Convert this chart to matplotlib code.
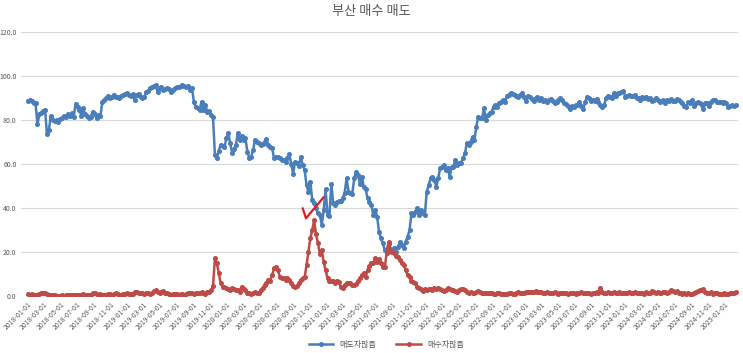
import matplotlib
matplotlib.use("Agg")
import matplotlib.pyplot as plt
import matplotlib.dates as mdates
import pandas as pd

plt.rcParams['font.family'] = ['Noto Sans CJK KR', 'DejaVu Sans']

title = "부산 매수 매도"
series_names = ["매도자많음", "매수자많음"]
start_date = "2018-01-01"

# weekly values, starting 2018-01-01
sell_heavy = [
    88.8, 89.2, 88.5, 87.8, 87.6, 78.0, 82.5, 83.0, 84.0, 84.6, 73.5, 75.5, 81.8,
    80.0, 79.5, 79.8, 79.0, 80.3, 80.8, 82.0, 81.2, 82.5, 82.0, 83.0, 81.5, 87.3,
    85.8, 84.5, 82.0, 85.5, 82.5, 82.0, 81.0, 81.5, 83.8, 82.5, 80.8, 82.2, 81.8,
    88.0, 89.0, 89.8, 91.0, 90.0, 90.5, 91.5, 90.6, 90.3, 90.2, 91.0, 91.5, 92.0,
    92.3, 91.5, 90.8, 91.8, 89.2, 91.5, 92.0, 91.0, 90.0, 90.5, 92.5, 93.0, 94.5,
    95.0, 95.5, 95.9, 92.5, 94.5, 95.2, 93.8, 94.2, 94.4, 94.0, 92.5, 93.5, 94.4,
    94.8, 95.2, 95.5, 95.9, 95.3, 95.2, 95.5, 93.6, 94.4, 88.0, 86.0, 85.3, 84.5,
    88.3, 84.5, 87.0, 83.8, 84.0, 82.3, 81.2, 64.1, 62.6, 66.0, 68.6, 68.0, 67.6,
    71.7, 74.2, 69.4, 65.2, 67.0, 68.6, 74.2, 70.9, 72.7, 71.0, 71.7, 65.6, 62.6,
    63.3, 66.4, 70.9, 70.0, 69.4, 68.6, 69.0, 70.2, 71.2, 68.6, 67.9, 67.1, 62.6,
    63.3, 63.0, 62.5, 62.0, 61.8, 61.1, 62.5, 64.5, 60.0, 55.5, 61.1, 60.5, 59.1,
    63.3, 59.5, 57.3, 50.5, 47.4, 52.0, 43.6, 42.1, 39.8, 37.6, 36.8, 32.3, 39.0,
    48.5, 37.0, 36.5, 51.0, 42.1, 41.5, 42.5, 43.0, 43.0, 44.5, 47.0, 53.5, 47.4,
    46.7, 46.5, 53.5, 56.5, 55.0, 51.0, 54.2, 49.5, 48.5, 44.5, 42.9, 41.5, 36.8,
    39.1, 36.1, 29.2, 26.2, 23.9, 20.9, 21.0, 23.5, 21.5, 20.2, 22.0, 20.2, 22.4,
    24.7, 23.2, 21.7, 24.7, 27.0, 30.0, 37.6, 36.8, 38.3, 39.8, 36.8, 39.1, 37.6,
    36.8, 47.4, 50.5, 53.5, 54.2, 52.7, 49.7, 53.5, 58.0, 58.5, 59.5, 57.3, 58.0,
    54.2, 58.5, 58.8, 61.8, 59.5, 60.3, 60.5, 62.6, 64.8, 69.4, 68.6, 70.2, 72.4,
    70.9, 77.0, 81.5, 80.8, 80.8, 85.3, 80.0, 82.3, 83.0, 83.8, 86.0, 86.8, 86.0,
    87.6, 88.3, 89.1, 88.3, 91.0, 91.4, 92.4, 92.0, 91.4, 91.0, 90.6, 91.4, 92.1,
    90.6, 88.5, 91.0, 90.3, 89.5, 88.5, 89.8, 90.5, 89.2, 89.8, 88.8, 89.2, 88.3,
    89.2, 89.4, 88.5, 87.6, 88.2, 89.0, 89.8, 89.1, 87.8, 87.3, 86.2, 85.0, 86.2,
    86.0, 86.8, 86.8, 88.0, 86.5, 85.0, 88.0, 90.6, 89.8, 88.5, 89.2, 88.8, 89.6,
    88.0, 86.8, 86.0, 87.0, 89.8, 91.0, 90.6, 90.0, 92.1, 91.0, 92.1, 92.4, 92.5,
    93.2, 90.6, 90.9, 91.4, 91.0, 90.8, 91.2, 89.8, 89.8, 89.1, 90.3, 89.8, 90.6,
    89.3, 89.8, 88.5, 89.1, 89.8, 89.2, 88.3, 88.5, 89.0, 87.6, 89.1, 88.5, 89.5,
    88.8, 88.5, 89.6, 89.1, 88.3, 87.6, 86.5, 86.0, 88.0, 87.6, 89.1, 86.5, 87.5,
    88.3, 87.6, 86.8, 84.8, 87.6, 87.6, 86.2, 88.3, 89.1, 89.2, 88.3, 88.0, 88.1,
    87.6, 88.3, 87.6, 86.0, 86.2, 86.8, 86.4, 86.8,
]

buy_heavy = [
    0.8, 0.6, 1.0, 0.5, 0.3, 0.4, 0.7, 1.2, 1.5, 1.3, 0.9, 0.5, 0.6,
    0.4, 0.3, 0.1, 0.0, 0.2, 0.3, 0.2, 0.4, 0.3, 0.5, 0.4, 0.6, 0.4,
    0.3, 0.6, 0.5, 0.8, 0.3, 0.5, 0.3, 0.5, 1.2, 1.4, 1.0, 0.6, 0.8,
    0.5, 0.6, 0.4, 0.7, 0.8, 0.5, 0.9, 1.2, 0.8, 0.6, 0.5, 0.7, 1.0,
    1.2, 0.9, 1.0, 1.1, 1.9, 2.0, 1.4, 1.2, 1.5, 1.0, 1.5, 1.2, 1.0,
    1.2, 2.2, 2.7, 1.8, 1.5, 1.8, 2.3, 1.5, 1.2, 0.8, 0.6, 0.8, 1.0,
    0.7, 0.5, 0.8, 1.0, 0.6, 0.8, 1.2, 1.5, 1.3, 1.0, 1.2, 1.5, 1.4,
    1.6, 1.3, 1.1, 2.0, 1.8, 2.5, 4.5, 17.1, 15.0, 10.3, 5.8, 4.2, 4.0,
    3.5, 3.0, 2.7, 3.5, 3.2, 2.8, 2.5, 2.0, 4.2, 3.0, 2.5, 1.5, 1.2,
    0.9, 1.3, 1.6, 1.2, 1.2, 2.5, 3.5, 5.0, 6.0, 7.3, 7.0, 9.5, 12.6,
    13.3, 11.8, 8.8, 8.0, 8.0, 7.3, 8.0, 7.3, 5.8, 4.5, 4.2, 4.5, 6.0,
    7.3, 8.0, 8.5, 14.0, 20.0, 26.2, 30.0, 34.5, 28.0, 24.0, 19.0, 20.9, 15.5,
    11.8, 8.0, 7.0, 6.8, 7.0, 6.1, 7.0, 6.5, 3.9, 3.5, 5.0, 6.0, 5.8,
    6.1, 5.0, 5.2, 5.5, 6.8, 8.0, 9.5, 10.3, 8.8, 11.8, 13.5, 14.8, 15.0,
    17.1, 15.6, 16.7, 14.8, 13.3, 13.0, 19.4, 24.5, 21.0, 20.0, 19.4, 18.0, 17.5,
    16.4, 14.8, 14.1, 11.8, 9.5, 8.8, 7.0, 6.5, 5.8, 4.2, 3.5, 3.0, 2.4,
    3.0, 2.5, 3.0, 3.2, 2.8, 3.5, 3.2, 3.8, 3.0, 2.5, 2.2, 2.8, 3.5,
    3.0, 2.6, 2.6, 2.2, 2.0, 2.5, 3.0, 3.2, 2.6, 1.8, 1.2, 1.6, 1.5,
    1.4, 1.9, 2.4, 1.8, 1.4, 1.2, 1.5, 1.3, 1.2, 1.4, 1.0, 0.9, 1.3,
    1.2, 1.0, 1.0, 0.8, 1.1, 1.2, 1.3, 1.0, 0.9, 1.5, 2.0, 1.3, 1.2,
    1.5, 1.8, 2.0, 1.6, 1.9, 1.7, 2.1, 1.8, 1.6, 1.9, 1.5, 1.4, 1.7,
    1.5, 1.3, 1.2, 1.6, 1.4, 1.1, 1.3, 1.5, 1.2, 1.4, 1.0, 1.3, 1.2,
    1.5, 1.1, 1.3, 1.2, 1.6, 1.4, 1.2, 1.5, 1.3, 1.1, 1.4, 1.3, 1.6,
    1.5, 3.8, 1.9, 1.5, 1.3, 1.6, 1.2, 1.4, 1.7, 1.3, 1.5, 1.9, 1.4,
    1.2, 1.5, 1.3, 1.7, 1.4, 1.2, 1.6, 1.3, 1.5, 1.2, 1.4, 1.1, 1.6,
    1.3, 1.5, 2.4, 1.6, 1.3, 1.8, 1.5, 1.4, 1.9, 1.6, 1.3, 1.7, 2.7,
    2.4, 1.8, 2.2, 1.5, 1.2, 0.9, 1.2, 1.0, 1.4, 0.8, 1.1, 1.5, 2.0,
    2.2, 2.7, 2.5, 3.0, 1.9, 1.2, 1.5, 1.6, 0.9, 1.2, 1.5, 0.8, 1.0,
    0.9, 1.3, 0.7, 0.9, 1.2, 1.5, 1.5, 1.6,
]

# hand-drawn check mark annotation (date, value)
check_dates = ["2020-10-05", "2020-10-17", "2020-12-21"]
check_vals = [39.9, 35.3, 44.9]

dates = pd.date_range(start_date, periods=len(sell_heavy), freq="7D")

BLUE = "#4A7EBB"
RED = "#BE4B48"
TXT = "#595959"

fig = plt.figure(figsize=(7.43, 3.53), dpi=100)
ax = fig.add_axes([0.028, 0.1615, 0.965, 0.748])

ax.plot(dates, sell_heavy, color=BLUE, lw=1.8, marker="o", ms=2.6, label=series_names[0])
ax.plot(dates, buy_heavy, color=RED, lw=1.8, marker="o", ms=2.6, label=series_names[1])
ax.plot(pd.to_datetime(check_dates), check_vals, color="#E0191E", lw=1.6, solid_capstyle="round")

ax.set_ylim(0, 120)
ax.set_yticks(range(0, 121, 20))
ax.yaxis.set_major_formatter(plt.FuncFormatter(lambda v, p: f"{v:.1f}"))
ax.set_xlim(pd.Timestamp("2017-12-06"), pd.Timestamp("2025-02-17"))
ax.xaxis.set_major_locator(mdates.MonthLocator(bymonth=[1, 3, 5, 7, 9, 11]))
ax.xaxis.set_major_formatter(mdates.DateFormatter("%Y-%m-%d"))

ax.grid(axis="y", color="#D9D9D9", lw=0.8)
ax.set_axisbelow(True)
for s in ax.spines.values():
    s.set_visible(False)
ax.tick_params(axis="both", length=0, labelsize=5, labelcolor=TXT)
ax.tick_params(axis="y", pad=3)
for lbl in ax.get_xticklabels():
    lbl.set_rotation(45)
    lbl.set_ha("right")
    lbl.set_rotation_mode("anchor")

fig.suptitle(title, x=0.5, y=0.985, fontsize=9.5, color=TXT)
fig.legend(loc="lower center", bbox_to_anchor=(0.52, -0.01), ncol=2, frameon=False,
           fontsize=5.8, labelcolor=TXT, handlelength=3, columnspacing=2.5)

fig.savefig("out.png", dpi=100)
